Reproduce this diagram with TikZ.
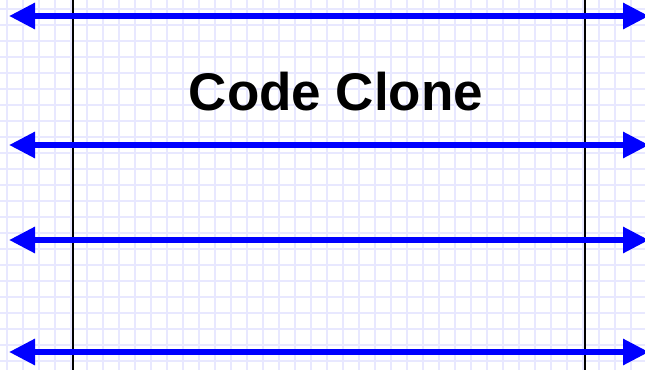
\documentclass[tikz,border=0pt]{standalone}
\usepackage{fontspec}
\setmainfont{Liberation Sans}
\usetikzlibrary{arrows.meta}
\begin{document}
\begin{tikzpicture}[x=1pt,y=-1pt,
  gridline/.style={draw={rgb,255:red,232;green,232;blue,255},line width=2pt},
  rail/.style={draw=black,line width=2pt},
  blueline/.style={draw={rgb,255:red,0;green,0;blue,255},line width=6pt,
    {Triangle[length=26pt,width=25pt]}-{Triangle[length=26pt,width=25pt]}},
  title/.style={font=\bfseries\fontsize{53}{60}\selectfont, inner sep=0pt, anchor=base}]
\useasboundingbox (0,0) rectangle (645,370);
\clip (0,0) rectangle (645,370);
\fill[white] (0,0) rectangle (645,370);
\foreach \i in {0,...,40} { \draw[gridline] (7+16*\i,0) -- (7+16*\i,370); }
\foreach \j in {0,...,23} { \draw[gridline] (0,9+16*\j) -- (645,9+16*\j); }
\coordinate (t1) at (73,0); \coordinate (b1) at (73,370);
\coordinate (t2) at (585,0); \coordinate (b2) at (585,370);
\draw[rail] (t1) -- (b1);
\draw[rail] (t2) -- (b2);
\foreach \y [count=\k] in {16,145,240,352} {
  \coordinate (L\k) at (9,\y);
  \coordinate (R\k) at (649,\y);
  \draw[blueline] (L\k) -- (R\k);
}
\node[title] (cc) at (336,110) {Code Clone};
\end{tikzpicture}
\end{document}
